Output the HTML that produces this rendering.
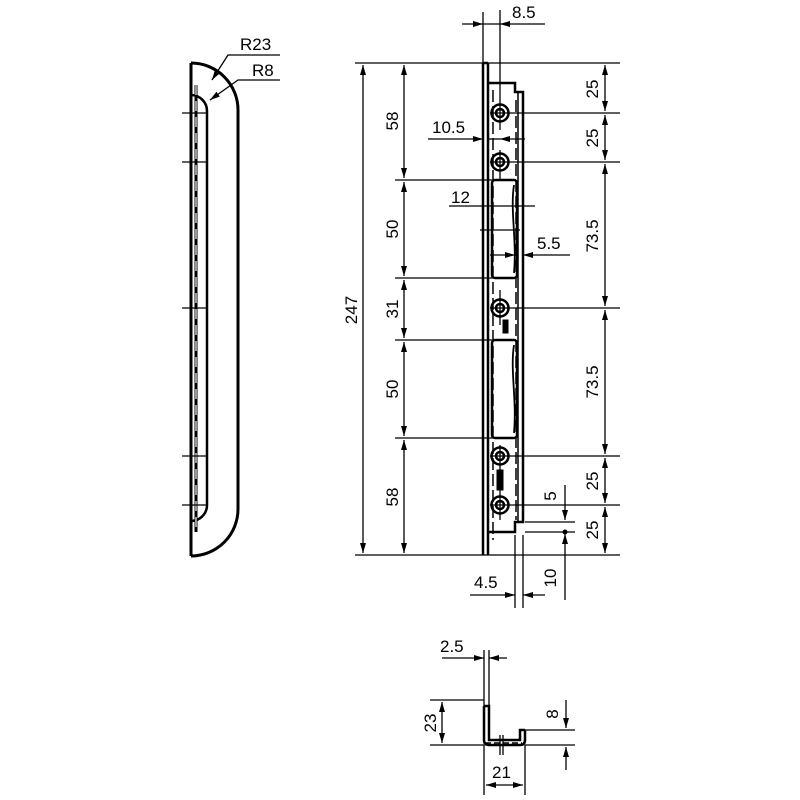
<!DOCTYPE html>
<html><head><style>body{margin:0;background:#fff}svg{display:block}text{font-family:"Liberation Sans",Arial,sans-serif;font-size:17px;fill:#000}</style></head><body>
<svg width="800" height="800" viewBox="0 0 800 800" xmlns="http://www.w3.org/2000/svg">
<defs>
<marker id="a" viewBox="0 0 10 6" refX="10" refY="3" markerWidth="11" markerHeight="6" orient="auto-start-reverse" markerUnits="userSpaceOnUse"><path d="M0,0L10,3L0,6Z"/></marker>
</defs>
<g stroke="#000" fill="none">
<!-- side view -->
<path d="M191,63 L191,556 M191,63 A47,47 0 0 1 238,110 L238,509 A47,47 0 0 1 191,556" stroke-width="3"/>
<path d="M191,95 A16,16 0 0 1 207,111 L207,505 A16,16 0 0 1 191,521" stroke-width="2.5"/>
<path d="M196,85 L196,532" stroke-width="3"/>
<path d="M196,85 L196,532" stroke="#fff" stroke-width="1.2" stroke-dasharray="10,6"/>
<path d="M182,113H207M182,162H207M182,308H207M182,456H207M182,505H207" stroke-width="1.3"/>
<path d="M280,55H228L212,80" stroke-width="1.3" marker-end="url(#a)"/>
<path d="M280,80H238L210,100" stroke-width="1.3" marker-end="url(#a)"/>
<!-- plate -->
<path d="M483,63V555M488,63V555" stroke-width="2.5"/>
<path d="M483,63H488M488,83H515V92H523V522H515V532H488" stroke-width="2.5"/>
<path d="M518,92V522" stroke-width="1.5"/>
<path d="M493,90V540M516,100V520" stroke-width="1.5" stroke-dasharray="12,4"/>
<rect x="492" y="180" width="25" height="98" rx="3" stroke-width="2.5"/>
<rect x="492" y="340" width="25" height="98" rx="3" stroke-width="2.5"/>
<path d="M514,185 C510,210 517,240 514,273M514,345 C510,370 517,400 514,433" stroke-width="1.8"/>
<g stroke-width="2.5">
<circle cx="500" cy="113" r="8.5"/><circle cx="500" cy="113" r="4"/>
<circle cx="500" cy="162" r="8.5"/><circle cx="500" cy="162" r="4"/>
<circle cx="500" cy="308" r="8.5"/><circle cx="500" cy="308" r="4"/>
<circle cx="500" cy="456" r="8.5"/><circle cx="500" cy="456" r="4"/>
<circle cx="500" cy="505" r="8.5"/><circle cx="500" cy="505" r="4"/>
</g>
<path d="M503,320h5v13h-5z" fill="#000" stroke-width="1"/>
<path d="M497,470h6v20h-6z" fill="#000" stroke-width="1"/>
<!-- extension lines -->
<g stroke-width="1.3">
<path d="M355,63H620M395,180H500M395,278H500M395,340H500M395,438H500M355,555H620"/>
<path d="M490,113H620M490,162H620M490,308H620M490,456H620M490,505H620"/>
<path d="M500,10V130M500,150V180M500,290V325M500,445V520M483,12V63"/>
<path d="M525,522H575M525,532H575"/>
<path d="M515,535V608M523,535V608"/>
<path d="M449,206H535M480,230H520"/>
</g>
<g stroke-width="1.3">
<path d="M363,65V553" marker-start="url(#a)" marker-end="url(#a)"/>
<path d="M404,65V178" marker-start="url(#a)" marker-end="url(#a)"/>
<path d="M404,182V276" marker-start="url(#a)" marker-end="url(#a)"/>
<path d="M404,280V338" marker-start="url(#a)" marker-end="url(#a)"/>
<path d="M404,342V436" marker-start="url(#a)" marker-end="url(#a)"/>
<path d="M404,440V553" marker-start="url(#a)" marker-end="url(#a)"/>
<path d="M605,65V111" marker-start="url(#a)" marker-end="url(#a)"/>
<path d="M605,115V160" marker-start="url(#a)" marker-end="url(#a)"/>
<path d="M605,164V306" marker-start="url(#a)" marker-end="url(#a)"/>
<path d="M605,310V454" marker-start="url(#a)" marker-end="url(#a)"/>
<path d="M605,458V503" marker-start="url(#a)" marker-end="url(#a)"/>
<path d="M605,507V553" marker-start="url(#a)" marker-end="url(#a)"/>
<path d="M462,24H483" marker-end="url(#a)"/><path d="M545,24H500" marker-end="url(#a)"/>
<path d="M483,24H500"/>
<path d="M428,139H483" marker-end="url(#a)"/><path d="M525,139H500" marker-end="url(#a)"/>
<path d="M488,139H500"/>
<path d="M490,255H515" marker-end="url(#a)"/><path d="M570,255H523" marker-end="url(#a)"/>
<path d="M565,485V520" marker-end="url(#a)"/><path d="M565,600V534" marker-end="url(#a)"/>
<path d="M470,595H515" marker-end="url(#a)"/><path d="M545,595H523" marker-end="url(#a)"/>
</g>
<circle cx="565" cy="532" r="2.5" fill="#000" stroke="none"/>
<!-- profile -->
<path d="M484,706V740Q484,745 489,745H520Q525,745 525,740V730M484,706H489V740H520V730H525" stroke-width="2.5"/>
<path d="M485,743H522" stroke-width="1.5" stroke-dasharray="6,3"/>
<g stroke-width="1.3">
<path d="M484,650V706M489,650V706M430,700H484M430,745H484M525,730H575M525,745H575"/>
<path d="M484,745V795M525,745V795M500,735V755M503,735V755"/>
<path d="M442,658H484" marker-end="url(#a)"/><path d="M507,658H489" marker-end="url(#a)"/>
<path d="M442,702V743" marker-start="url(#a)" marker-end="url(#a)"/>
<path d="M566,700V728" marker-end="url(#a)"/><path d="M566,770V747" marker-end="url(#a)"/>
<path d="M486,785H523" marker-start="url(#a)" marker-end="url(#a)"/>
</g>
</g>
<text x="240" y="50">R23</text>
<text x="252" y="76">R8</text>
<text x="512" y="18">8.5</text>
<text x="432" y="133">10.5</text>
<text x="451" y="203">12</text>
<text x="537" y="249">5.5</text>
<text x="474" y="588">4.5</text>
<text x="440" y="652">2.5</text>
<text x="492" y="778">21</text>
<text transform="translate(357,310) rotate(-90)" text-anchor="middle">247</text>
<text transform="translate(398,121) rotate(-90)" text-anchor="middle">58</text>
<text transform="translate(398,229) rotate(-90)" text-anchor="middle">50</text>
<text transform="translate(398,309) rotate(-90)" text-anchor="middle">31</text>
<text transform="translate(398,389) rotate(-90)" text-anchor="middle">50</text>
<text transform="translate(398,497) rotate(-90)" text-anchor="middle">58</text>
<text transform="translate(598,89) rotate(-90)" text-anchor="middle">25</text>
<text transform="translate(598,138) rotate(-90)" text-anchor="middle">25</text>
<text transform="translate(598,236) rotate(-90)" text-anchor="middle">73.5</text>
<text transform="translate(598,382) rotate(-90)" text-anchor="middle">73.5</text>
<text transform="translate(598,481) rotate(-90)" text-anchor="middle">25</text>
<text transform="translate(598,530) rotate(-90)" text-anchor="middle">25</text>
<text transform="translate(556,496) rotate(-90)" text-anchor="middle">5</text>
<text transform="translate(556,578) rotate(-90)" text-anchor="middle">10</text>
<text transform="translate(436,723) rotate(-90)" text-anchor="middle">23</text>
<text transform="translate(558,714) rotate(-90)" text-anchor="middle">8</text>
</svg>
</body></html>
